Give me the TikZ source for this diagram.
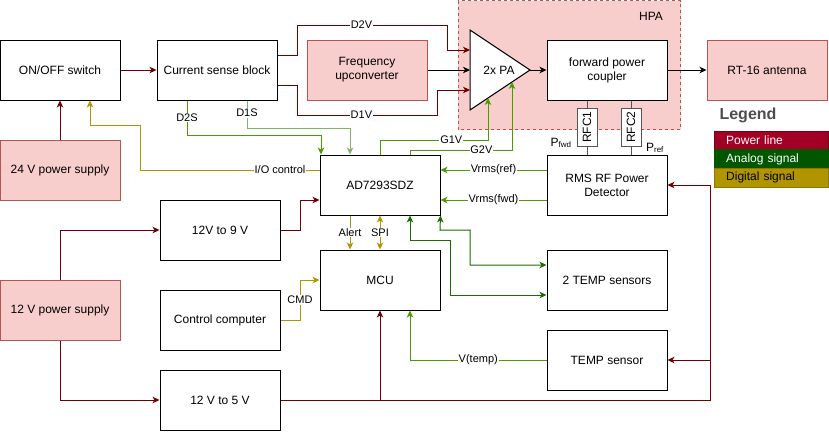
\documentclass[tikz,border=0pt]{standalone}
\usepackage{fontspec}
\setmainfont{Liberation Sans}
\usetikzlibrary{arrows.meta,calc}
\definecolor{pwr}{HTML}{6F0000}
\definecolor{digc}{HTML}{B09500}
\definecolor{anac}{HTML}{4D9900}
\definecolor{anaL}{HTML}{82B366}
\definecolor{tmpc}{HTML}{1A6B00}
\definecolor{pinkfill}{HTML}{F8CECC}
\definecolor{pinkstroke}{HTML}{B85450}
\definecolor{legpw}{HTML}{A20025}
\definecolor{legan}{HTML}{005700}
\definecolor{legdg}{HTML}{B09500}
\definecolor{leggray}{HTML}{4D4D4D}
\definecolor{rfcgray}{HTML}{555555}
\tikzset{
  box/.style={draw=black, line width=1pt, fill=white, minimum width=120pt, minimum height=60pt, inner sep=2pt, align=center},
  pbox/.style={box, draw=pinkstroke, fill=pinkfill},
  rfcbox/.style={draw=rfcgray, line width=1pt, fill=white, minimum width=20pt, minimum height=38pt, inner sep=0pt},
  lbl/.style={fill=white, inner sep=0.8pt, font=\fontsize{11}{13}\selectfont},
  wire/.style={line width=1pt, ->},
  pline/.style={wire, draw=pwr},
  dline/.style={wire, draw=digc},
  aline/.style={wire, draw=anac},
  aLline/.style={wire, draw=anaL},
  tline/.style={wire, draw=tmpc, <->},
  sline/.style={wire, draw=black},
  legrow/.style={anchor=west, minimum width=114pt, minimum height=18.7pt, text width=90pt, inner xsep=12pt, inner ysep=0pt, align=left, font=\fontsize{12}{14}\selectfont},
}
\begin{document}
\begin{tikzpicture}[x=1pt, y=-1pt, font=\fontsize{12}{14}\selectfont, >={Stealth[length=7pt,width=6.5pt,inset=2pt]}]
\useasboundingbox (0,0) rectangle (829,432);

% HPA region
\draw[draw=pinkstroke, fill=pinkfill, dashed, line width=0.8pt] (458,0.5) rectangle (680.5,129.5);
\node (hpa) at (651,16) {HPA};

% PA triangle
\draw[line width=1pt, fill=white] (470,30) -- (470,110) -- (530,70) -- cycle;
\node (pa) at (499,70) {2x PA};
\coordinate (paD2) at (470,50);
\coordinate (paRF) at (470,70);
\coordinate (paD1) at (470,90);
\coordinate (paOut) at (530,70);
\coordinate (paG1) at (488,98);
\coordinate (paG2) at (512,82);

% boxes
\node[box] (onoff) at (60,70) {ON/OFF switch};
\node[box] (cs) at (217,70) {Current sense block};
\node[pbox] (fu) at (367,70) {Frequency\\upconverter};
\node[box] (fpc) at (607,70) {forward power\\coupler};
\node[pbox] (ant) at (767,70) {RT-16 antenna};
\node[pbox] (ps24) at (60,170) {24 V power supply};
\node[box] (ad) at (380,185) {AD7293SDZ};
\node[box] (rms) at (607,185) {RMS RF Power\\Detector};
\node[box] (v9) at (220,230) {12V to 9 V};
\node[box] (mcu) at (380,280) {MCU};
\node[box] (t2) at (607,280) {2 TEMP sensors};
\node[pbox] (ps12) at (60,310) {12 V power supply};
\node[box] (cc) at (220,320) {Control computer};
\node[box] (t1) at (607,360) {TEMP sensor};
\node[box] (v5) at (220,400) {12 V to 5 V};

% RFC
\node[rfcbox] (rfc1) at (587,127) {\rotatebox{90}{RFC1}};
\node[rfcbox] (rfc2) at (631,127) {\rotatebox{90}{RFC2}};
\draw[rfcgray, line width=1pt] (fpc.south -| rfc1.north) -- (rfc1.north);
\draw[rfcgray, line width=1pt] (rfc1.south) -- (rms.north -| rfc1.south);
\draw[rfcgray, line width=1pt] (fpc.south -| rfc2.north) -- (rfc2.north);
\draw[rfcgray, line width=1pt] (rfc2.south) -- (rms.north -| rfc2.south);
\node (pfwd) at (561,143) {P\textsubscript{fwd}};
\node (pref) at (655,148) {P\textsubscript{ref}};

% power lines
\draw[pline] (ps24.north) -- (onoff.south);
\draw[pline] (onoff.east) -- (cs.west);
\draw[pline] (cs.east |- 0,55) -- (297,55) -- (297,25) -- node[lbl, pos=0.43]{D2V} (447,25) -- (447,50) -- (paD2);
\draw[pline] (cs.east |- 0,85) -- (297,85) -- (297,115) -- node[lbl, pos=0.46]{D1V} (437,115) -- (437,90) -- (paD1);
\draw[pline] (ps12.north) |- (v9.west);
\draw[pline] (v9.east) -- (300,230) |- (ad.west |- 0,200);
\draw[pline] (ps12.south) |- (v5.west);
\draw[pline] (v5.east) -| (mcu.south);
\coordinate (jr) at (710,400);
\coordinate (jt) at (710,360);
\draw[pline] (v5.east) -- (jr) |- (t1.east);
\draw[pline] (jt) |- (rms.east);

% RF signal
\draw[sline] (fu.east) -- (paRF);
\draw[sline] (paOut) -- (fpc.west);
\draw[sline] (fpc.east) -- (ant.west);

% digital
\draw[dline] (ad.west |- 0,170) -- node[lbl, pos=0.22]{I/O control} (140,170) -- (140,125) -- (90,125) -- (onoff.south -| 90,0);
\draw[dline] (cc.east) -- (300,320) -- node[lbl]{CMD} (300,280) -- (mcu.west);
\draw[dline] (ad.south -| 350,0) -- node[lbl]{Alert} (mcu.north -| 350,0);
\draw[dline, <->] (ad.south -| 380,0) -- node[lbl]{SPI} (mcu.north -| 380,0);

% analog
\draw[aline] (cs.south -| 187,0) -- node[lbl]{D2S} (187,135) -- (321,135) -- (ad.north -| 321,0);
\draw[aLline] (cs.south -| 247,0) -- node[lbl, pos=0.46]{D1S} (247,128) -- (350,128) -- (ad.north -| 350,0);
\draw[aline] (ad.north -| 380,0) -- (380,140) -- node[lbl, pos=0.66]{G1V} (488,140) -- (paG1);
\draw[aline] (ad.north -| 410,0) -- (410,150) -- node[lbl, pos=0.7]{G2V} (512,150) -- (paG2);
\draw[aline] (rms.west |- 0,170) -- node[lbl]{Vrms(ref)} (ad.east |- 0,170);
\draw[aline] (rms.west |- 0,200) -- node[lbl]{Vrms(fwd)} (ad.east |- 0,200);
\draw[aline] (t1.west) -- node[lbl]{V(temp)} (410,360) -- (mcu.south -| 410,0);
\draw[tline] (ad.south -| 410,0) -- (410,240) -- (450,240) -- (450,295) -- (t2.west |- 0,295);
\draw[tline] (ad.south east) -- (440,230) -- (470,230) -- (470,265) -- (t2.west |- 0,265);

% legend
\node[text=leggray, font=\bfseries\fontsize{16}{19}\selectfont] (legend) at (748,115) {Legend};
\node[legrow, fill=legpw, draw=legpw!70!black, text=white] (lg1) at (714,140.3) {Power line};
\node[legrow, fill=legan, draw=legan, text=white] (lg2) at (714,159) {Analog signal};
\node[legrow, fill=legdg, draw=legdg!80!black, text=black] (lg3) at (714,177.7) {Digital signal};
\end{tikzpicture}
\end{document}
